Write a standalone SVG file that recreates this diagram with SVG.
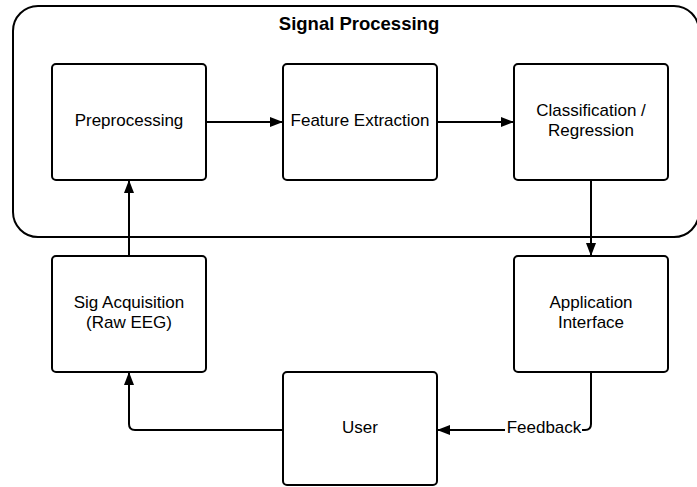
<svg xmlns="http://www.w3.org/2000/svg" width="697" height="487" viewBox="0 0 697 487">
  <style>
    .box { fill: #ffffff; stroke: #000000; stroke-width: 2; }
    .lbl { font-family: "Liberation Sans", Arial, sans-serif; font-size: 17px; fill: #000000; text-anchor: middle; }
    .title { font-family: "Liberation Sans", Arial, sans-serif; font-size: 18.5px; font-weight: bold; fill: #000000; text-anchor: middle; }
    .wire { fill: none; stroke: #000000; stroke-width: 2; stroke-linejoin: round; }
  </style>
  <defs>
    <marker id="arrow" viewBox="0 0 13 10" refX="13" refY="5" markerWidth="13" markerHeight="10" markerUnits="userSpaceOnUse" orient="auto">
      <path d="M0,0 L13,5 L0,10 Z" fill="#000000"/>
    </marker>
  </defs>
  <rect width="697" height="487" fill="#ffffff"/>

  <!-- Signal processing container -->
  <g id="signal-processing">
    <rect class="box" x="13" y="6" width="686" height="231" rx="25" ry="25"/>
    <text class="title" x="359" y="30">Signal Processing</text>
  </g>

  <!-- Connectors -->
  <g id="connectors">
    <path class="wire" d="M206,122 L283,122" marker-end="url(#arrow)"/>
    <path class="wire" d="M437,122 L514,122" marker-end="url(#arrow)"/>
    <path class="wire" d="M591,180 L591,256" marker-end="url(#arrow)"/>
    <path class="wire" d="M129,256 L129,180" marker-end="url(#arrow)"/>
    <path class="wire" d="M591,372 L591,424 Q591,430 585,430 L437,430" marker-end="url(#arrow)"/>
    <path class="wire" d="M283,430 L135,430 Q129,430 129,424 L129,372" marker-end="url(#arrow)"/>
    <rect x="505" y="419" width="77" height="20" fill="#ffffff"/>
    <text class="lbl" x="544" y="433">Feedback</text>
  </g>

  <g id="preprocessing">
    <rect class="box" x="52" y="64" width="154" height="116" rx="4" ry="4"/>
    <text class="lbl" x="129" y="126">Preprocessing</text>
  </g>

  <g id="feature-extraction">
    <rect class="box" x="283" y="64" width="154" height="116" rx="4" ry="4"/>
    <text class="lbl" x="360" y="126">Feature Extraction</text>
  </g>

  <g id="classification">
    <rect class="box" x="514" y="64" width="154" height="116" rx="4" ry="4"/>
    <text class="lbl" x="591" y="116">Classification /</text>
    <text class="lbl" x="591" y="136">Regression</text>
  </g>

  <g id="sig-acquisition">
    <rect class="box" x="52" y="256" width="154" height="116" rx="4" ry="4"/>
    <text class="lbl" x="129" y="308">Sig Acquisition</text>
    <text class="lbl" x="129" y="328">(Raw EEG)</text>
  </g>

  <g id="application-interface">
    <rect class="box" x="514" y="256" width="154" height="116" rx="4" ry="4"/>
    <text class="lbl" x="591" y="308">Application</text>
    <text class="lbl" x="591" y="328">Interface</text>
  </g>

  <g id="user">
    <rect class="box" x="283" y="372" width="154" height="113" rx="4" ry="4"/>
    <text class="lbl" x="360" y="433">User</text>
  </g>
</svg>
